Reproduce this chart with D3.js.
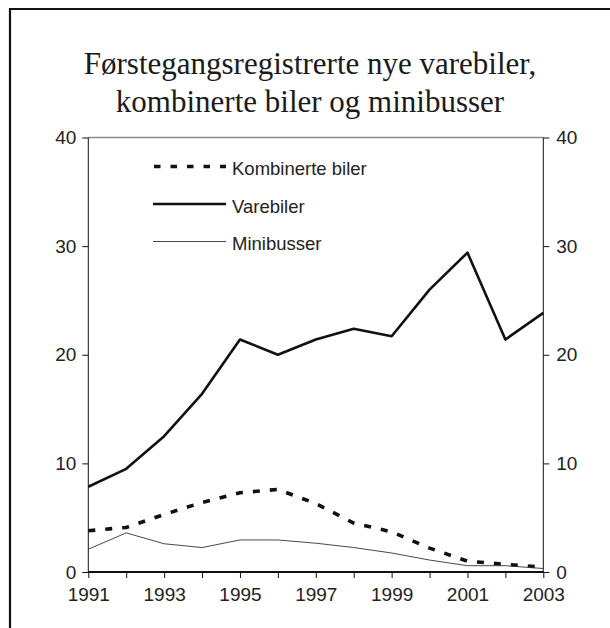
<!DOCTYPE html>
<html>
<head>
<meta charset="utf-8">
<script src="https://cdn.jsdelivr.net/npm/d3@7"></script>
<style>
  body { margin: 0; background: #fff; }
  svg { display: block; }
</style>
</head>
<body>
<div id="chart-container"></div>
<script>
const years = [1991, 1992, 1993, 1994, 1995, 1996, 1997, 1998, 1999, 2000, 2001, 2002, 2003];
const kombinerte = [3.8, 4.1, 5.3, 6.4, 7.3, 7.6, 6.3, 4.5, 3.7, 2.2, 1.0, 0.7, 0.45];
const varebiler = [7.85, 9.5, 12.5, 16.4, 21.4, 20.0, 21.4, 22.4, 21.7, 26.0, 29.4, 21.4, 23.85];
const minibusser = [2.1, 3.6, 2.6, 2.25, 2.95, 2.95, 2.65, 2.25, 1.75, 1.1, 0.58, 0.58, 0.32];
const yTicks = [0, 10, 20, 30, 40];
const xLabels = [1991, 1993, 1995, 1997, 1999, 2001, 2003];
const titleLines = ["Førstegangsregistrerte nye varebiler,", "kombinerte biler og minibusser"];

const width = 610;
const height = 628;

const svg = d3.select("#chart-container")
    .append("svg")
        .attr("width", width)
        .attr("height", height);

// outer frame (only top and left edges fall inside the picture)
svg.append("path")
    .attr("d", `M10,${height} V9 H${width}`)
    .attr("fill", "none")
    .attr("stroke", "#111")
    .attr("stroke-width", 2.2);

// title
svg.append("text")
    .attr("font-family", "Liberation Serif, Times New Roman, serif")
    .attr("font-size", 31)
    .attr("fill", "#1a1a1a")
    .attr("text-anchor", "middle")
    .selectAll("tspan")
    .data(titleLines)
    .enter()
    .append("tspan")
        .attr("x", 310)
        .attr("y", (d, i) => 73.5 + i * 38.5)
        .text(d => d);

const x = d3.scaleLinear().domain([1991, 2003]).range([88.3, 543.3]);
const y = d3.scaleLinear().domain([0, 40]).range([572, 137.5]);

const font = "Liberation Sans, Arial, sans-serif";

// gray top line at 40
svg.append("line")
    .attr("x1", x(1991)).attr("x2", x(2003))
    .attr("y1", y(40)).attr("y2", y(40))
    .attr("stroke", "#8a8a8a")
    .attr("stroke-width", 1.6);

// left axis
const yLeft = svg.append("g")
    .attr("transform", `translate(${x(1991)},0)`)
    .call(d3.axisLeft(y).tickValues(yTicks).tickSize(6).tickPadding(6));

// right axis
const yRight = svg.append("g")
    .attr("transform", `translate(${x(2003)},0)`)
    .call(d3.axisRight(y).tickValues(yTicks).tickSize(6).tickPadding(7));

// bottom axis, every year ticked, every second year labelled
const xAxis = svg.append("g")
    .attr("transform", `translate(0,${y(0)})`)
    .call(d3.axisBottom(x)
        .tickValues(years)
        .tickSize(6)
        .tickPadding(10)
        .tickFormat(d => xLabels.includes(d) ? String(d) : ""));

[yLeft, yRight, xAxis].forEach(g => {
    g.select(".domain").attr("stroke", "#111");
    g.selectAll(".tick line").attr("stroke", "#111");
    g.selectAll(".tick text")
        .attr("font-family", font)
        .attr("font-size", 19)
        .attr("fill", "#222");
});
xAxis.select(".domain").attr("stroke-width", 2.2);
// plain domain lines without the end caps
yLeft.select(".domain").attr("d", `M0,${y(0)}V${y(40)}`);
yRight.select(".domain").attr("d", `M0,${y(0)}V${y(40)}`);
xAxis.select(".domain").attr("d", `M${x(1991)},0H${x(2003)}`);

const line = d3.line()
    .x((d, i) => x(years[i]))
    .y(d => y(d));

const series = [
    { name: "Kombinerte biler", values: kombinerte, width: 3.6, dash: "7,10", color: "#111" },
    { name: "Varebiler", values: varebiler, width: 2.6, dash: null, color: "#111" },
    { name: "Minibusser", values: minibusser, width: 0.9, dash: null, color: "#333" }
];

svg.selectAll("path.series")
    .data(series)
    .enter()
    .append("path")
        .attr("class", "series")
        .attr("d", d => line(d.values))
        .attr("fill", "none")
        .attr("stroke", d => d.color)
        .attr("stroke-width", d => d.width)
        .attr("stroke-dasharray", d => d.dash)
        .attr("stroke-linejoin", "round");

// legend
const legend = svg.selectAll("g.legend")
    .data(series)
    .enter()
    .append("g")
        .attr("class", "legend")
        .attr("transform", (d, i) => `translate(0,${166.5 + i * 37.5})`);

legend.append("line")
    .attr("x1", d => d.dash ? 154 : 153)
    .attr("x2", 226)
    .attr("stroke", d => d.color)
    .attr("stroke-width", d => d.width)
    .attr("stroke-dasharray", d => d.dash ? "6.5,10" : null);

legend.append("text")
    .attr("x", 232)
    .attr("y", 8.5)
    .attr("font-family", font)
    .attr("font-size", 18.5)
    .attr("fill", "#222")
    .text(d => d.name);
</script>
</body>
</html>
